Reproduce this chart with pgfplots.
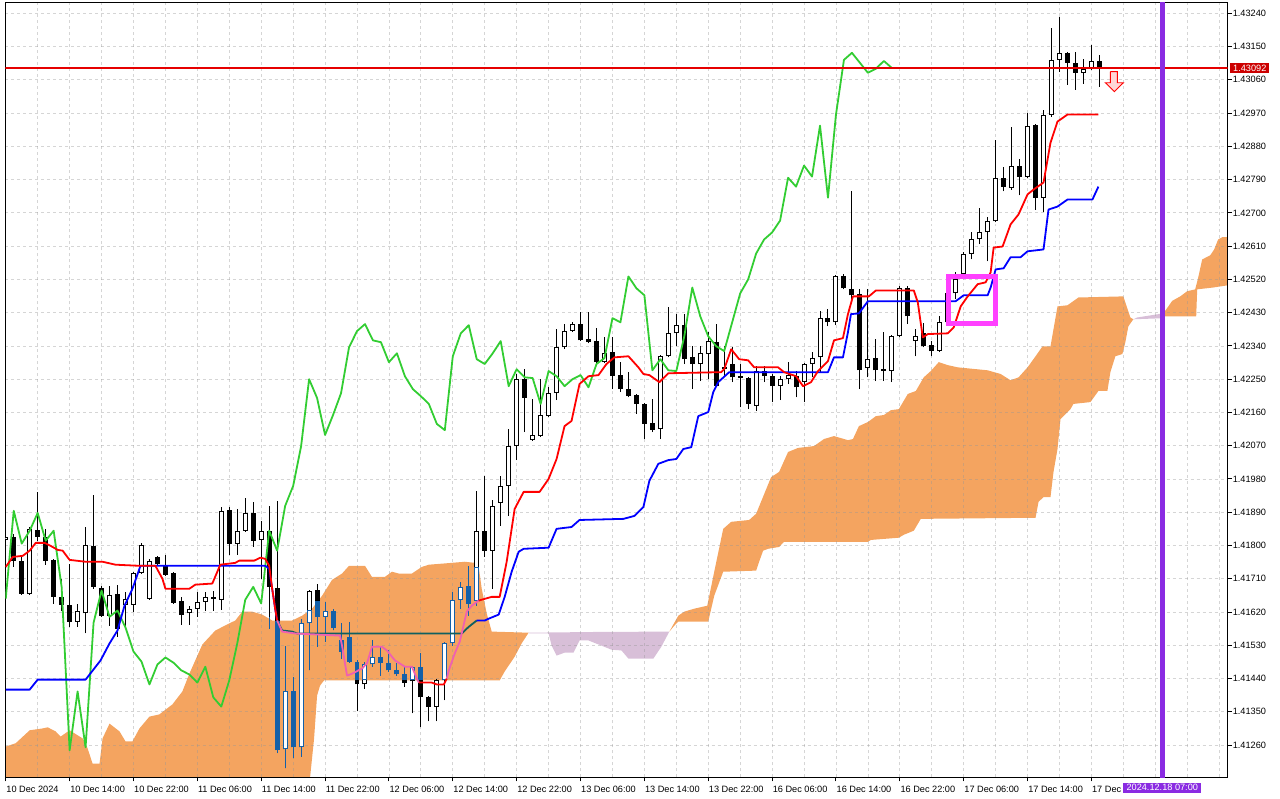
\documentclass[border=0pt]{standalone}
\usepackage{fontspec}
\setmainfont{Liberation Sans}
\usepackage{pgfplots}
\usepackage{pgfplotstable}
\pgfplotsset{compat=1.18}
\definecolor{cloudup}{RGB}{244,164,96}
\definecolor{clouddn}{RGB}{216,191,216}
\definecolor{incloud}{RGB}{20,96,168}
\definecolor{tkpink}{RGB}{240,96,176}
\definecolor{kjteal}{RGB}{16,96,96}
\definecolor{chik}{RGB}{50,205,50}
\definecolor{vline}{RGB}{138,43,226}
\definecolor{frame}{RGB}{255,64,255}
\definecolor{bidred}{RGB}{204,0,0}
\definecolor{bidline}{RGB}{230,0,0}
\definecolor{gridc}{RGB}{150,150,150}

\pgfplotstableread{
i o h l c
0 1.41815 1.41832 1.41805 1.41823
1 1.41823 1.41832 1.41742 1.41759
2 1.41759 1.41769 1.41667 1.41670
3 1.41670 1.41850 1.41667 1.41845
4 1.41842 1.41945 1.41813 1.41823
5 1.41823 1.41845 1.41748 1.41759
6 1.41761 1.41764 1.41643 1.41661
7 1.41661 1.41710 1.41624 1.41640
8 1.41640 1.41751 1.41580 1.41594
9 1.41594 1.41643 1.41580 1.41624
10 1.41616 1.41850 1.41562 1.41802
11 1.41799 1.41937 1.41683 1.41688
12 1.41686 1.41691 1.41607 1.41610
13 1.41610 1.41691 1.41583 1.41667
14 1.41670 1.41694 1.41553 1.41575
15 1.41640 1.41675 1.41575 1.41656
16 1.41640 1.41729 1.41621 1.41726
17 1.41726 1.41807 1.41724 1.41802
18 1.41656 1.41764 1.41653 1.41759
19 1.41769 1.41772 1.41748 1.41751
20 1.41748 1.41775 1.41718 1.41721
21 1.41726 1.41729 1.41643 1.41645
22 1.41651 1.41661 1.41586 1.41613
23 1.41616 1.41637 1.41586 1.41629
24 1.41629 1.41675 1.41607 1.41648
25 1.41648 1.41675 1.41624 1.41661
26 1.41661 1.41678 1.41624 1.41656
27 1.41653 1.41904 1.41626 1.41894
28 1.41896 1.41904 1.41775 1.41805
29 1.41805 1.41899 1.41775 1.41840
30 1.41840 1.41929 1.41837 1.41888
31 1.41888 1.41918 1.41796 1.41813
32 1.41815 1.41867 1.41710 1.41840
33 1.41840 1.41907 1.41575 1.41688
34 1.41686 1.41921 1.41238 1.41246
35 1.41248 1.41529 1.41197 1.41405
36 1.41405 1.41445 1.41224 1.41254
37 1.41254 1.41602 1.41229 1.41591
38 1.41589 1.41680 1.41462 1.41678
39 1.41680 1.41697 1.41526 1.41607
40 1.41607 1.41648 1.41540 1.41624
41 1.41624 1.41629 1.41570 1.41578
42 1.41543 1.41589 1.41494 1.41513
43 1.41553 1.41594 1.41483 1.41486
44 1.41486 1.41489 1.41351 1.41424
45 1.41424 1.41486 1.41413 1.41478
46 1.41478 1.41545 1.41472 1.41497
47 1.41497 1.41526 1.41448 1.41483
48 1.41483 1.41518 1.41459 1.41462
49 1.41462 1.41481 1.41448 1.41451
50 1.41451 1.41472 1.41418 1.41429
51 1.41432 1.41475 1.41346 1.41472
52 1.41472 1.41510 1.41308 1.41389
53 1.41389 1.41394 1.41324 1.41364
54 1.41364 1.41440 1.41324 1.41435
55 1.41435 1.41540 1.41381 1.41535
56 1.41535 1.41675 1.41529 1.41653
57 1.41653 1.41702 1.41629 1.41688
58 1.41691 1.41745 1.41610 1.41643
59 1.41651 1.41948 1.41637 1.41840
60 1.41840 1.41988 1.41769 1.41786
61 1.41786 1.41923 1.41683 1.41907
62 1.41915 1.41988 1.41853 1.41961
63 1.41961 1.42115 1.41880 1.42069
64 1.42069 1.42264 1.42031 1.42250
65 1.42250 1.42277 1.42107 1.42199
66 1.42085 1.42196 1.42083 1.42099
67 1.42096 1.42250 1.42093 1.42153
68 1.42150 1.42228 1.42147 1.42212
69 1.42212 1.42385 1.42193 1.42336
70 1.42336 1.42399 1.42331 1.42380
71 1.42380 1.42404 1.42377 1.42399
72 1.42399 1.42431 1.42353 1.42355
73 1.42358 1.42431 1.42347 1.42350
74 1.42353 1.42388 1.42293 1.42296
75 1.42296 1.42363 1.42293 1.42320
76 1.42323 1.42363 1.42223 1.42258
77 1.42261 1.42296 1.42215 1.42223
78 1.42223 1.42269 1.42201 1.42204
79 1.42207 1.42210 1.42156 1.42183
80 1.42183 1.42185 1.42088 1.42129
81 1.42131 1.42196 1.42107 1.42112
82 1.42115 1.42315 1.42088 1.42312
83 1.42312 1.42444 1.42309 1.42374
84 1.42374 1.42426 1.42339 1.42396
85 1.42396 1.42426 1.42291 1.42304
86 1.42309 1.42339 1.42223 1.42291
87 1.42291 1.42339 1.42245 1.42320
88 1.42318 1.42377 1.42250 1.42353
89 1.42350 1.42399 1.42228 1.42231
90 1.42282 1.42339 1.42255 1.42277
91 1.42291 1.42336 1.42242 1.42255
92 1.42258 1.42291 1.42174 1.42253
93 1.42253 1.42255 1.42169 1.42183
94 1.42177 1.42285 1.42164 1.42272
95 1.42272 1.42285 1.42242 1.42258
96 1.42258 1.42264 1.42188 1.42231
97 1.42231 1.42258 1.42193 1.42250
98 1.42250 1.42296 1.42237 1.42261
99 1.42258 1.42272 1.42201 1.42228
100 1.42242 1.42293 1.42188 1.42291
101 1.42291 1.42323 1.42255 1.42307
102 1.42309 1.42434 1.42269 1.42415
103 1.42415 1.42439 1.42393 1.42404
104 1.42404 1.42531 1.42396 1.42528
105 1.42528 1.42534 1.42493 1.42496
106 1.42493 1.42758 1.42466 1.42477
107 1.42480 1.42493 1.42223 1.42274
108 1.42280 1.42493 1.42255 1.42304
109 1.42307 1.42358 1.42245 1.42274
110 1.42277 1.42377 1.42245 1.42272
111 1.42272 1.42369 1.42242 1.42366
112 1.42366 1.42501 1.42363 1.42498
113 1.42498 1.42501 1.42399 1.42420
114 1.42353 1.42385 1.42312 1.42366
115 1.42374 1.42401 1.42336 1.42339
116 1.42342 1.42353 1.42312 1.42326
117 1.42326 1.42420 1.42323 1.42404
118 1.42404 1.42488 1.42399 1.42482
119 1.42482 1.42539 1.42466 1.42520
120 1.42534 1.42593 1.42528 1.42590
121 1.42590 1.42647 1.42574 1.42628
122 1.42628 1.42712 1.42615 1.42647
123 1.42647 1.42690 1.42569 1.42679
124 1.42677 1.42898 1.42674 1.42795
125 1.42795 1.42825 1.42758 1.42771
126 1.42768 1.42933 1.42763 1.42828
127 1.42828 1.42847 1.42747 1.42798
128 1.42798 1.42971 1.42795 1.42936
129 1.42939 1.42941 1.42709 1.42741
130 1.42741 1.42979 1.42701 1.42966
131 1.42966 1.43200 1.42960 1.43114
132 1.43114 1.43230 1.43082 1.43133
133 1.43133 1.43136 1.43047 1.43106
134 1.43106 1.43136 1.43033 1.43079
135 1.43079 1.43117 1.43049 1.43090
136 1.43090 1.43155 1.43087 1.43111
137 1.43111 1.43128 1.43041 1.43092
}\candles

% parts of the candles that lie inside the cloud (drawn blue)
\pgfplotstableread{
i o h l c
33 1.41607 1.41607 1.41575 1.41607
34 1.41597 1.41597 1.41238 1.41246
35 1.41248 1.41529 1.41197 1.41405
36 1.41405 1.41445 1.41224 1.41254
37 1.41254 1.41602 1.41229 1.41591
38 1.41589 1.41626 1.41462 1.41626
39 1.41651 1.41651 1.41526 1.41607
40 1.41607 1.41648 1.41540 1.41624
41 1.41624 1.41629 1.41570 1.41578
42 1.41543 1.41589 1.41494 1.41513
43 1.41553 1.41594 1.41483 1.41486
44 1.41486 1.41489 1.41435 1.41435
45 1.41435 1.41486 1.41435 1.41478
46 1.41478 1.41545 1.41472 1.41497
47 1.41497 1.41526 1.41448 1.41483
48 1.41483 1.41518 1.41459 1.41462
49 1.41462 1.41481 1.41448 1.41451
50 1.41451 1.41472 1.41435 1.41435
51 1.41435 1.41475 1.41435 1.41472
52 1.41472 1.41510 1.41435 1.41435
55 1.41435 1.41540 1.41435 1.41535
56 1.41535 1.41675 1.41529 1.41653
57 1.41653 1.41702 1.41629 1.41688
58 1.41691 1.41745 1.41610 1.41643
59 1.41651 1.41742 1.41637 1.41742
}\bcandles

\begin{document}
\pagecolor{white}
\begin{tikzpicture}[x=1bp,y=1bp]
\begin{axis}[
  at={(2.5bp,21bp)}, anchor=south west,
  scale only axis, width=1225bp, height=776.5bp,
  xmin=-0.0625, xmax=153.0625,
  ymin=1.411727, ymax=1.4326925,
  set layers, clip mode=individual,
  axis line style={line width=1bp, black},
  tick align=outside,
  major tick length=4bp, minor tick length=0bp,
  major tick style={line width=1bp, black},
  xtick pos=left, ytick pos=right, yticklabel pos=right,
  xtick={0,8,...,136},
  xticklabels={10 Dec 2024,10 Dec 14:00,10 Dec 22:00,11 Dec 06:00,11 Dec 14:00,11 Dec 22:00,12 Dec 06:00,12 Dec 14:00,12 Dec 22:00,13 Dec 06:00,13 Dec 14:00,13 Dec 22:00,16 Dec 06:00,16 Dec 14:00,16 Dec 22:00,17 Dec 06:00,17 Dec 14:00,17 Dec 22:00},
  minor xtick={0,4,...,152},
  xminorgrids=true, ymajorgrids=true, xmajorgrids=false,
  grid style={dash pattern=on 3bp off 3bp, line width=0.8bp, color=gridc, opacity=0.4},
  minor grid style={dash pattern=on 3bp off 3bp, line width=0.8bp, color=gridc, opacity=0.4},
  major grid style={dash pattern=on 3bp off 3bp, line width=0.8bp, color=gridc, opacity=0.4},
  ytick={1.4126,1.4135,1.4144,1.4153,1.4162,1.4171,1.4180,1.4189,1.4198,1.4207,1.4216,1.4225,1.4234,1.4243,1.4252,1.4261,1.4270,1.4279,1.4288,1.4297,1.4306,1.4315,1.4324},
  yticklabels={1.41260,1.41350,1.41440,1.41530,1.41620,1.41710,1.41800,1.41890,1.41980,1.42070,1.42160,1.42250,1.42340,1.42430,1.42520,1.42610,1.42700,1.42790,1.42880,1.42970,1.43060,1.43150,1.43240},
  /pgf/number format/assume math mode=true,
  tick label style={font=\fontsize{9.2bp}{11bp}\selectfont, inner sep=0pt},
  xticklabel style={anchor=north west, xshift=0.5bp, yshift=-4.5bp},
  yticklabel style={anchor=west, xshift=1bp},
]
% ---- Ichimoku cloud ----
\addplot[on layer=axis background, fill=cloudup, draw=none] coordinates {
(-1,1.41256) (0,1.41256) (1.25,1.41265) (3,1.41300) (4.625,1.41305) (5.25,1.41308) (6.25,1.41297) (6.875,1.41283) (8,1.41300) (9.625,1.41278) (10.25,1.41251) (10.875,1.41210) (11.75,1.41210) (12.125,1.41278) (13,1.41318) (14.25,1.41297) (15,1.41270) (15.875,1.41270) (16.75,1.41305) (18,1.41337) (19.25,1.41343) (20.875,1.41370) (22.125,1.41405) (23,1.41453) (24.625,1.41532) (26.25,1.41570) (28,1.41589) (28.75,1.41597) (29.625,1.41621) (30.875,1.41621) (32.125,1.41613) (33.375,1.41597) (35.875,1.41597) (37.125,1.41610) (38.375,1.41629) (39.625,1.41664) (40.875,1.41707) (42.125,1.41724) (43,1.41745) (45,1.41745) (45.875,1.41715) (47.5,1.41715) (48.375,1.41729) (49.25,1.41724) (50.875,1.41724) (52.125,1.41742) (53,1.41748) (55.875,1.41753) (57.5,1.41756) (58.75,1.41753) (59.25,1.41742) (59.625,1.41683) (60.25,1.41616) (60.875,1.41567) (65.5,1.41564)
(64.625,1.41535) (63.75,1.41499) (62.5,1.41459) (61.875,1.41435) (39.875,1.41435) (39.375,1.41421) (39,1.41394) (38.625,1.41278) (38.125,1.41173) (37.875,1.4110) (-1,1.4110)};
\addplot[on layer=axis background, fill=clouddn, draw=none] coordinates {
(65.5,1.41564) (74,1.41566) (83.125,1.41567) (82.125,1.41526) (81.125,1.41494) (78,1.41494) (77.125,1.41516) (75.875,1.41518) (74.625,1.41529) (73,1.41543) (71.875,1.41543) (71.125,1.41510) (70,1.41510) (69,1.41502) (68.375,1.41529) (68,1.41562) (65.625,1.41562)};
\addplot[on layer=axis background, fill=cloudup, draw=none] coordinates {
(83.125,1.41567) (84.25,1.41610) (85,1.41621) (86.25,1.41629) (87.875,1.41637) (88.75,1.41729) (89.875,1.41845) (90.875,1.41864) (93.125,1.41869) (94,1.41886) (95.875,1.41985) (96.875,1.41999) (98,1.42053) (99.25,1.42064) (101.25,1.42069) (102.5,1.42088) (103.75,1.42096) (105.5,1.42085) (106.125,1.42088) (106.875,1.42123) (108,1.42134) (109,1.42150) (110,1.42153) (110.875,1.42166) (111.875,1.42169) (113,1.42210) (114,1.42218) (115,1.42255) (115.875,1.42272) (116.875,1.42296) (118,1.42288) (119.25,1.42282) (123,1.42274) (124.625,1.42264) (125.875,1.42247) (126.875,1.42255) (128,1.42282) (129,1.42312) (129.875,1.42339) (130.875,1.42339) (131.75,1.42447) (133,1.42450) (134.375,1.42471) (140,1.42474) (140.875,1.42417) (141.25,1.42412)
(140.625,1.42393) (140.25,1.42350) (139.875,1.42318) (139,1.42312) (138.375,1.42269) (138,1.42218) (136.875,1.42218) (135.875,1.42188) (133.75,1.42183) (133.375,1.42169) (132.125,1.42142) (131.75,1.42061) (131.25,1.41999) (130.875,1.41931) (130,1.41931) (129.375,1.41918) (129,1.41875) (114.625,1.41872) (113.75,1.41840) (112.5,1.41829) (111.875,1.41821) (108.375,1.41815) (108,1.41810) (97.5,1.41810) (96.875,1.41796) (95.5,1.41791) (94.875,1.41786) (94.375,1.41756) (94,1.41732) (89.875,1.41729) (88.75,1.41664) (88,1.41594) (84.25,1.41594) (83.75,1.41583)};
\addplot[on layer=axis background, fill=clouddn, draw=none] coordinates {
(141.25,1.42412) (141.75,1.42417) (145,1.42428) (145,1.42415)};
\addplot[on layer=axis background, fill=cloudup, draw=none] coordinates {
(145,1.42428) (145.375,1.42439) (146.125,1.42462) (147.125,1.42474) (148,1.42488) (149,1.42493) (149.375,1.42525) (149.875,1.42574) (150.875,1.42585) (151.375,1.42601) (151.875,1.42628) (152.375,1.42634) (154,1.42636) (154,1.42507) (151.25,1.42498) (149.25,1.42493) (149.125,1.42420) (145,1.42420)};

% ---- candles ----
\addplot[draw=none, mark=none, error bars/.cd, y dir=plus, y explicit, error mark=none,
  error bar style={line width=1bp, draw=black}]
  table[x=i, y=l, y error plus expr={\thisrow{h}-\thisrow{l}}] {\candles};
\addplot[draw=none, mark=none, error bars/.cd, y dir=plus, y explicit, error mark=none,
  error bar style={line width=5bp, draw=black}]
  table[x=i, y expr={min(\thisrow{o},\thisrow{c})}, y error plus expr={abs(\thisrow{c}-\thisrow{o})}] {\candles};
\addplot[draw=none, mark=none, restrict expr to domain={\thisrow{c}-\thisrow{o}}{0.00005:1},
  unbounded coords=jump,
  error bars/.cd, y dir=plus, y explicit, error mark=none,
  error bar style={line width=3bp, draw=white}]
  table[x=i, y expr={\thisrow{o}+0.000027}, y error plus expr={\thisrow{c}-\thisrow{o}-0.000054}] {\candles};
% in-cloud parts
\addplot[draw=none, mark=none, error bars/.cd, y dir=plus, y explicit, error mark=none,
  error bar style={line width=1bp, draw=incloud}]
  table[x=i, y=l, y error plus expr={\thisrow{h}-\thisrow{l}}] {\bcandles};
\addplot[draw=none, mark=none, error bars/.cd, y dir=plus, y explicit, error mark=none,
  error bar style={line width=5bp, draw=incloud}]
  table[x=i, y expr={min(\thisrow{o},\thisrow{c})}, y error plus expr={abs(\thisrow{c}-\thisrow{o})}] {\bcandles};
\addplot[draw=none, mark=none, restrict expr to domain={\thisrow{c}-\thisrow{o}}{0.00005:1},
  unbounded coords=jump,
  error bars/.cd, y dir=plus, y explicit, error mark=none,
  error bar style={line width=3bp, draw=white}]
  table[x=i, y expr={\thisrow{o}+0.000027}, y error plus expr={\thisrow{c}-\thisrow{o}-0.000054}] {\bcandles};

% ---- Chikou span ----
\addplot[chik, line width=1.8bp, line join=round] coordinates {
(0,1.41656) (1,1.41894) (2,1.41805) (3,1.41840) (4,1.41888) (5,1.41813) (6,1.41840) (7,1.41688) (8,1.41246) (9,1.41405) (10,1.41254) (11,1.41591) (12,1.41678) (13,1.41607) (14,1.41624) (15,1.41578) (16,1.41513) (17,1.41486) (18,1.41424) (19,1.41478) (20,1.41497) (21,1.41483) (22,1.41462) (23,1.41451) (24,1.41429) (25,1.41472) (26,1.41389) (27,1.41364) (28,1.41435) (29,1.41535) (30,1.41653) (31,1.41688) (32,1.41643) (33,1.41840) (34,1.41786) (35,1.41907) (36,1.41961) (37,1.42069) (38,1.42250) (39,1.42199) (40,1.42099) (41,1.42153) (42,1.42212) (43,1.42336) (44,1.42380) (45,1.42399) (46,1.42355) (47,1.42350) (48,1.42296) (49,1.42320) (50,1.42258) (51,1.42223) (52,1.42204) (53,1.42183) (54,1.42129) (55,1.42112) (56,1.42312) (57,1.42374) (58,1.42396) (59,1.42304) (60,1.42291) (61,1.42320) (62,1.42353) (63,1.42231) (64,1.42277) (65,1.42255) (66,1.42253) (67,1.42183) (68,1.42272) (69,1.42258) (70,1.42231) (71,1.42250) (72,1.42261) (73,1.42228) (74,1.42291) (75,1.42307) (76,1.42415) (77,1.42404) (78,1.42528) (79,1.42496) (80,1.42477) (81,1.42274) (82,1.42304) (83,1.42274) (84,1.42272) (85,1.42366) (86,1.42498) (87,1.42420) (88,1.42366) (89,1.42339) (90,1.42326) (91,1.42404) (92,1.42482) (93,1.42520) (94,1.42590) (95,1.42628) (96,1.42647) (97,1.42679) (98,1.42795) (99,1.42771) (100,1.42828) (101,1.42798) (102,1.42936) (103,1.42741) (104,1.42966) (105,1.43114) (106,1.43133) (107,1.43106) (108,1.43079) (109,1.43090) (110,1.43111) (111,1.43092)};

% ---- Kijun-sen ----
\addplot[blue, line width=1.8bp, line join=round] coordinates {
(0,1.41410) (3,1.41410) (4,1.41437) (10,1.41437) (11.875,1.41489) (13,1.41535) (14,1.41570) (14.875,1.41637) (15.875,1.41683) (16.875,1.41745) (32.5,1.41745) (33,1.41737) (33.375,1.41683) (33.75,1.41629) (34,1.41597)};
\addplot[kjteal, line width=1.8bp, line join=round] coordinates {
(34,1.41597) (34.625,1.41570) (35.875,1.41567) (36.5,1.41562) (57.125,1.41562) (58,1.41580) (59,1.41597)};
\addplot[blue, line width=1.8bp, line join=round] coordinates {
(59,1.41597) (60,1.41597) (60.5,1.41602) (61.75,1.41613) (62.5,1.41661) (63.375,1.41729) (64.25,1.41783) (64.875,1.41791) (68,1.41794) (69,1.41845) (70.875,1.41850) (71.875,1.41869) (77.375,1.41872) (78.75,1.41880) (79.875,1.41904) (80.625,1.41975) (81.75,1.42021) (83,1.42031) (84,1.42034) (84.875,1.42061) (85.875,1.42066) (86.75,1.42150) (88,1.42161) (88.625,1.42215) (89.25,1.42242) (90.625,1.42269) (103,1.42269) (103.75,1.42309) (104.875,1.42309) (105.5,1.42377) (105.875,1.42426) (106.875,1.42428) (108,1.42461) (119,1.42461) (120,1.42477) (123,1.42477) (123.375,1.42498) (124,1.42547) (125,1.42550) (125.875,1.42580) (127.125,1.42580) (128,1.42596) (130,1.42601) (130.625,1.42709) (131.75,1.42717) (133,1.42736) (136.125,1.42736) (136.875,1.42771)};

% ---- Tenkan-sen ----
\addplot[red, line width=1.8bp, line join=round] coordinates {
(0,1.41742) (0.875,1.41769) (2.125,1.41772) (3,1.41786) (3.75,1.41807) (4.875,1.41807) (5.875,1.41796) (6.5,1.41788) (7.125,1.41786) (8,1.41761) (10,1.41756) (12.125,1.41756) (13.75,1.41748) (16.75,1.41745) (18.75,1.41745) (19.625,1.41710) (20,1.41683) (23,1.41683) (23.75,1.41694) (25.875,1.41697) (26.875,1.41748) (28.75,1.41753) (29.25,1.41759) (31.125,1.41759) (31.875,1.41767) (32.5,1.41764) (33,1.41745) (33.375,1.41683) (33.75,1.41629) (34,1.41597)};
\addplot[tkpink, line width=1.8bp, line join=round] coordinates {
(34,1.41597) (34.625,1.41567) (36.25,1.41562) (41.875,1.41556) (42.125,1.41529) (42.75,1.41448) (43.375,1.41453) (44.625,1.41467) (45.25,1.41481) (45.875,1.41526) (47.125,1.41526) (47.75,1.41516) (48.75,1.41489) (50,1.41472) (50.875,1.41472) (51.5,1.41440) (51.75,1.41429)};
\addplot[red, line width=1.8bp, line join=round] coordinates {
(51.75,1.41429) (53.375,1.41429) (54,1.41424) (54.875,1.41424) (55.25,1.41440)};
\addplot[tkpink, line width=1.8bp, line join=round] coordinates {
(55.25,1.41440) (55.5,1.41462) (56.25,1.41508) (56.875,1.41540) (57.75,1.41621) (58.375,1.41637) (59.25,1.41651)};
\addplot[red, line width=1.8bp, line join=round] coordinates {
(59.25,1.41651) (60.875,1.41661) (61.875,1.41661) (62.75,1.41756) (63.75,1.41899) (64.875,1.41945) (66.875,1.41945) (68,1.41980) (69,1.42034) (70,1.42123) (70.875,1.42137) (71.875,1.42237) (73,1.42258) (74.25,1.42261) (75.25,1.42291) (76.25,1.42309) (78,1.42312) (79.25,1.42282) (79.875,1.42264) (80.625,1.42261) (81.875,1.42242) (83,1.42266) (89.625,1.42269) (90,1.42277) (90.875,1.42331) (91.875,1.42304) (93,1.42301) (93.75,1.42282) (96.75,1.42282) (97.5,1.42269) (99,1.42258) (99.875,1.42231) (100.875,1.42242) (101.75,1.42272) (103,1.42299) (103.75,1.42355) (104.875,1.42361) (105.5,1.42426) (106.125,1.42474) (108.125,1.42474) (109,1.42490) (113.75,1.42490) (114.25,1.42458) (114.875,1.42363) (115.5,1.42372) (118,1.42374) (118.75,1.42390) (119.625,1.42447) (120.5,1.42474) (121.75,1.42507) (122.75,1.42512) (123.375,1.42539) (123.75,1.42606) (124.875,1.42609) (125.875,1.42669) (126.875,1.42696) (128,1.42750) (128.75,1.42763) (130,1.42782) (130.875,1.42890) (131.75,1.42947) (133,1.42966) (136.875,1.42966)};

% ---- bid line ----
\addplot[draw=bidline, line width=1.1bp] coordinates {(-1,1.43092) (154,1.43092)};
% ---- sell arrow ----
\addplot[draw=red, fill={rgb,255:red,255;green,215;blue,215}, line width=0.9bp] coordinates {
(138.375,1.43082) (139.25,1.43082) (139.25,1.43052) (140,1.43052) (138.875,1.43028) (137.75,1.43052) (138.375,1.43052) (138.375,1.43082)};
% ---- highlight frame ----
\addplot[frame, line width=5bp, line cap=rect, line join=miter] coordinates {
(118.06,1.42527) (123.94,1.42527) (123.94,1.42400) (118.06,1.42400) (118.06,1.42527)};
% ---- vertical time line ----
\addplot[vline, line width=5bp] coordinates {(144.875,1.40) (144.875,1.44)};

\coordinate (pl) at (axis cs:144.875,1.411727);
\coordinate (bid) at (axis cs:153.0625,1.43092);
\end{axis}
\node[fill=vline, text=white, inner sep=0pt, minimum width=78bp, minimum height=10.5bp, anchor=north, font=\fontsize{9.2bp}{11bp}\selectfont] at ([yshift=-5bp]pl) {2024.12.18 07:00};
\node[fill=bidred, text=white, inner sep=0pt, minimum width=39bp, minimum height=10.5bp, anchor=west, font=\fontsize{9.2bp}{11bp}\selectfont] at ([xshift=2.5bp]bid) {1.43092};
\pgfresetboundingbox
\useasboundingbox (0,0) rectangle (1280,800);
\end{tikzpicture}
\end{document}
